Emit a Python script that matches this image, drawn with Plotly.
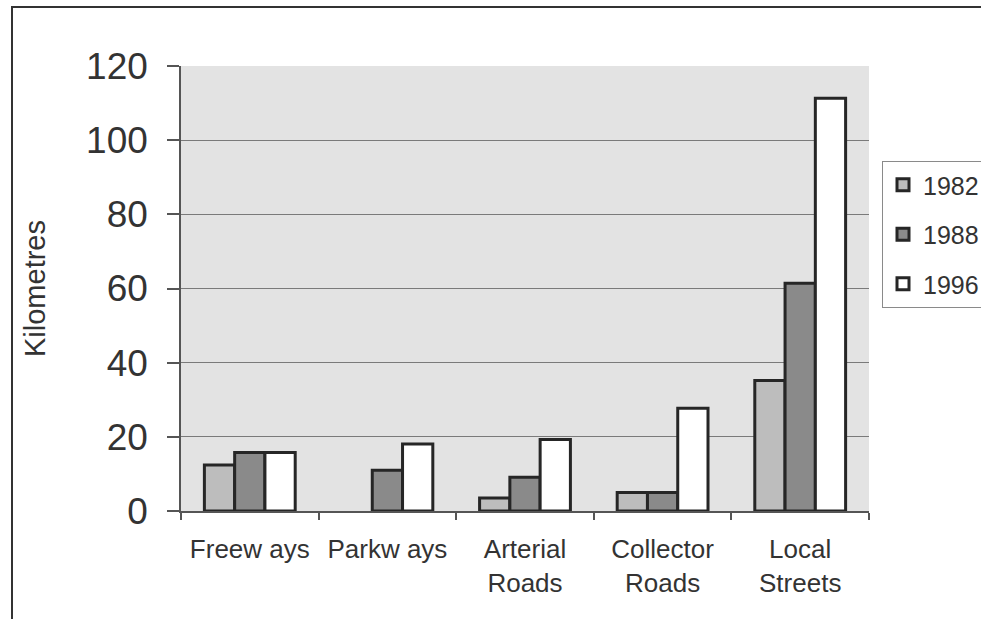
import plotly.graph_objects as go

categories = ["Freew ays", "Parkw ays", "Arterial<br>Roads", "Collector<br>Roads", "Local<br>Streets"]
years = ["1982", "1988", "1996"]
values_1982 = [12.4, None, 3.5, 5.0, 35.2]
values_1988 = [15.8, 11.0, 9.1, 5.0, 61.4]
values_1996 = [15.8, 18.1, 19.3, 27.7, 111.3]
colors = ["#bdbdbd", "#8a8a8a", "#ffffff"]

FONT = "Liberation Sans, Arial, sans-serif"

fig = go.Figure()
for i, (yr, vals) in enumerate(zip(years, [values_1982, values_1988, values_1996])):
    fig.add_trace(go.Bar(
        x=categories, y=vals, name=yr, legendgroup=yr,
        marker=dict(color=colors[i], line=dict(color="#262626", width=3)),
    ))

W, H = 981, 619
L, R, T, B = 181, 869, 66, 511
pw, ph = R - L, B - T

def px_x(px):
    return (px - L) / pw

def px_y(py):
    return (B - py) / ph

fig.update_layout(
    width=W, height=H,
    margin=dict(l=L, r=W - R, t=T, b=H - B, pad=0, autoexpand=False),
    paper_bgcolor="white",
    plot_bgcolor="#e3e3e3",
    barmode="group",
    bargap=0.34,
    bargroupgap=0,
    font=dict(family=FONT, color="#333333"),
    legend=dict(
        x=px_x(882), y=px_y(161), xanchor="left", yanchor="top",
        bgcolor="white", bordercolor="#8a8a8a", borderwidth=1,
        font=dict(size=25, color="#333333", family=FONT),
        tracegroupgap=14, itemwidth=30,
    ),
    xaxis=dict(
        showline=True, linecolor="#555555", linewidth=1.5,
        ticks="outside", ticklen=7, tickcolor="#555555", tickwidth=1.5,
        tickson="boundaries",
        tickfont=dict(size=26, color="#333333"),
        ticklabelstandoff=14,
        showgrid=False, automargin=False,
    ),
    yaxis=dict(
        range=[0, 120], dtick=20, tick0=0,
        showline=True, linecolor="#555555", linewidth=1.5,
        ticks="outside", ticklen=12, tickcolor="#555555", tickwidth=1.5,
        tickfont=dict(size=37, color="#333333"),
        ticklabelstandoff=12,
        showgrid=True, gridcolor="#7a7a7a", gridwidth=1,
        zeroline=False, automargin=False,
        title=dict(text="Kilometres", font=dict(size=29, color="#333333"), standoff=32),
    ),
    shapes=[dict(
        type="rect", xref="paper", yref="paper",
        x0=px_x(12), x1=px_x(1100), y0=px_y(700), y1=px_y(7),
        line=dict(color="#333333", width=2), fillcolor="rgba(0,0,0,0)", layer="above",
    )],
)

fig.write_html("out.html", config={"displayModeBar": False},
               post_script="document.body.style.margin='0px';")
